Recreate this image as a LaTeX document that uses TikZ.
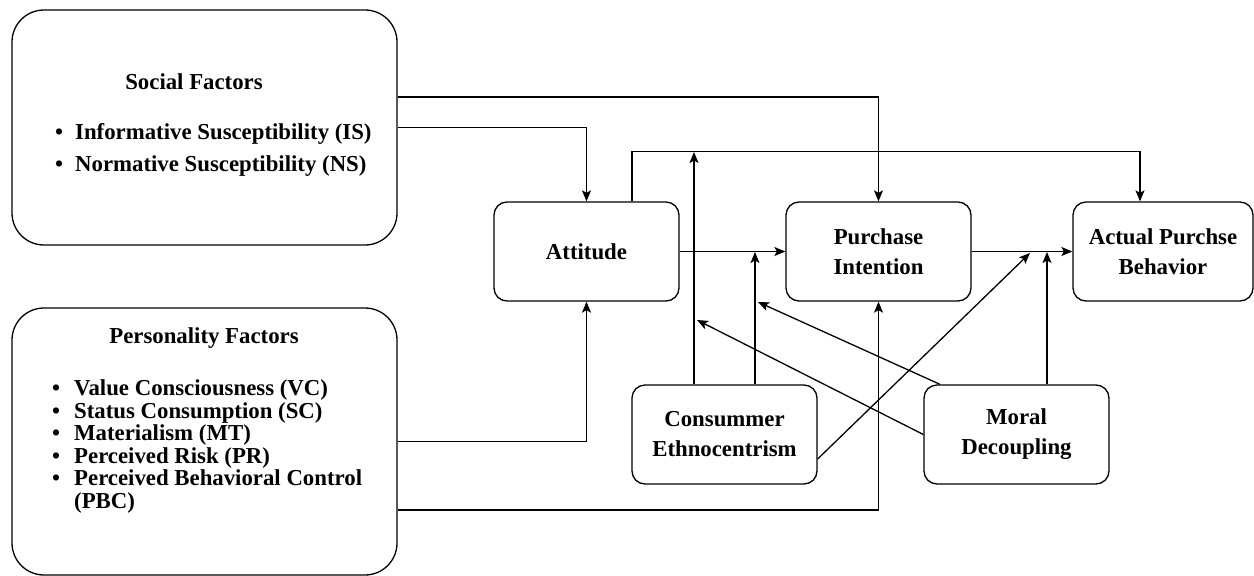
\documentclass[tikz,border=0pt]{standalone}
\usepackage{fontspec}
\setmainfont{Liberation Serif}
\usetikzlibrary{arrows.meta,calc}
\begin{document}
\begin{tikzpicture}[x=1pt,y=-1pt,
  every node/.style={font=\fontsize{22.8}{30}\selectfont\bfseries},
  bigbox/.style={draw, line width=1.3pt, rounded corners=32pt, inner sep=0pt},
  smallbox/.style={draw, line width=1.3pt, rounded corners=13pt, minimum width=185pt, minimum height=99pt, align=center, inner sep=0pt},
  txt/.style={anchor=base west, inner sep=0pt},
  arr/.style={line width=1.3pt, -{Stealth[length=11pt,width=9pt,inset=2.5pt]}},
  bul/.style={}
]
\useasboundingbox (0,0) rectangle (1254,576);
% big boxes
\node[bigbox, minimum width=385pt, minimum height=235pt] (social) at (204.5,127.5) {};
\node[bigbox, minimum width=385pt, minimum height=267pt] (pers) at (204.5,441.5) {};
% big box texts
\node[anchor=base, inner sep=0pt] (st) at (194,89) {Social Factors};
\node[txt] (s1) at (75,139) {\makebox[0pt][r]{•\hspace{12pt}}Informative Susceptibility (IS)};
\node[txt] (s2) at (75,171) {\makebox[0pt][r]{•\hspace{12pt}}Normative Susceptibility (NS)};
\node[anchor=base, inner sep=0pt] (pt) at (204,343) {Personality Factors};
\node[txt] (p1) at (74,395) {\makebox[0pt][r]{•\hspace{14pt}}Value Consciousness (VC)};
\node[txt] (p2) at (74,418) {\makebox[0pt][r]{•\hspace{14pt}}Status Consumption (SC)};
\node[txt] (p3) at (74,440) {\makebox[0pt][r]{•\hspace{14pt}}Materialism (MT)};
\node[txt] (p4) at (74,463) {\makebox[0pt][r]{•\hspace{14pt}}Perceived Risk (PR)};
\node[txt] (p5) at (74,485) {\makebox[0pt][r]{•\hspace{14pt}}Perceived Behavioral Control};
\node[txt] (p6) at (74,508) {(PBC)};
% small boxes
\node[smallbox] (att) at (586.5,251.5) {Attitude};
\node[smallbox] (pi) at (878.5,251.5) {Purchase\\Intention};
\node[smallbox, minimum width=180pt] (apb) at (1163,251.5) {Actual Purchse\\Behavior};
\node[smallbox] (ce) at (724.5,434.5) {Consummer\\Ethnocentrism};
\node[smallbox] (md) at (1016.5,434.5) {Moral\\Decoupling};
% target coordinates on connectors
\coordinate (t1) at (694,152);
\coordinate (t2) at (755,252);
\coordinate (t3) at (1030,253);
\coordinate (t4) at (1047,252);
\coordinate (t5) at (758,302);
\coordinate (t6) at (697,320);
% connectors
\draw[arr] ([yshift=30.5pt]social.east) -| (pi.north);
\draw[arr] (social.east) -| (att.north);
\draw[arr] ([xshift=45.5pt]att.north) -- ++(0,-50) -| ([xshift=-23pt]apb.north);
\draw[arr] (att.east) -- (pi.west);
\draw[arr] (pi.east) -- (apb.west);
\draw[arr] (pers.east) -| (att.south);
\draw[arr] ([yshift=-68.5pt]pers.east) -| (pi.south);
\draw[arr] (ce.north -| t1) -- (t1);
\draw[arr] (ce.north -| t2) -- (t2);
\draw[arr] ([yshift=-24.5pt]ce.east) -- (t3);
\draw[arr] (md.north -| t4) -- (t4);
\draw[arr] ([xshift=-76.5pt]md.north) -- (t5);
\draw[arr] (md.west) -- (t6);
\end{tikzpicture}
\end{document}
